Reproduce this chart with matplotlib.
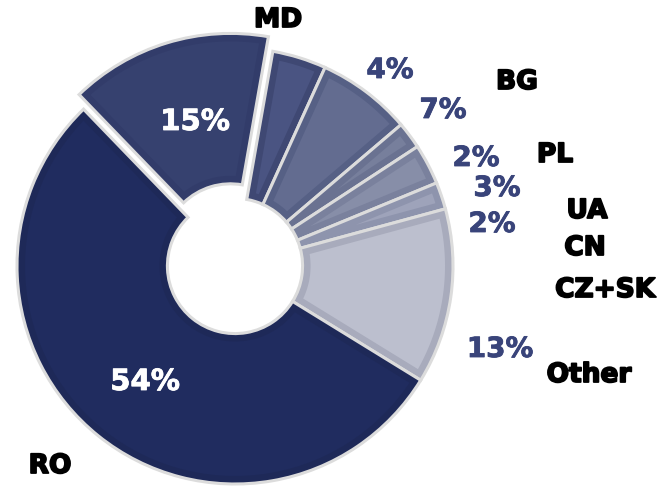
import numpy as np
import matplotlib
matplotlib.use("Agg")
import matplotlib.pyplot as plt
import matplotlib.patheffects as pe
from matplotlib.patches import Polygon

# share by origin, clockwise from the top
labels = ["MD", "BG", "PL", "UA", "CN", "CZ+SK", "Other", "RO"]
shares = [15, 4, 7, 2, 3, 2, 13, 54]

rim_colors = ["#323c6a", "#3f4873", "#566085", "#6a7291", "#7a819d",
              "#8e94ad", "#a8abbc", "#1e2958"]
fill_colors = ["#36416f", "#4a5482", "#636c90", "#777f9c", "#878ea8",
               "#9ea3ba", "#bcbfce", "#202c5f"]
explode = [0.07, 0, 0, 0, 0, 0, 0, 0]

# text placement in figure fraction (px / size)
W, H = 659, 487
name_pos = {"MD": (278, 20), "BG": (517, 82), "PL": (555, 155), "UA": (587, 211),
            "CN": (585, 248), "CZ+SK": (605, 290), "Other": (589, 375), "RO": (50, 466)}
pct_pos = {"MD": (195, 122), "BG": (390, 70), "PL": (443, 110), "UA": (476, 158),
           "CN": (497, 188), "CZ+SK": (492, 224), "Other": (500, 349), "RO": (145, 382)}
inside = {"MD", "RO"}

NAVY = "#39447a"
FONT = "DejaVu Sans"

fig = plt.figure(figsize=(W / 100, H / 100), dpi=100)
ax = fig.add_axes([0, 0, 1, 1])

R_PX = 218
cx, cy = 235, 266
hole = 0.31

wedges, _ = ax.pie(shares, colors=rim_colors, startangle=134, counterclock=False,
                   explode=explode, radius=1,
                   wedgeprops=dict(width=1 - hole, edgecolor="#dcdcdc", linewidth=2.2))

# lighter inner panel inside each wedge
d = 8 / R_PX
for w, fc in zip(wedges, fill_colors):
    c = np.array(w.center)
    t1, t2 = np.radians(w.theta1), np.radians(w.theta2)
    r_out, r_in = w.r - d, w.r - w.width + d
    half = (t2 - t1) / 2
    pts = []
    a_out = np.arcsin(d / r_out)
    if a_out >= half:
        continue
    for t in np.linspace(t1 + a_out, t2 - a_out, 60):
        pts.append(c + r_out * np.array([np.cos(t), np.sin(t)]))
    a_in = np.arcsin(min(d / r_in, 1))
    if a_in < half:
        for t in np.linspace(t2 - a_in, t1 + a_in, 30):
            pts.append(c + r_in * np.array([np.cos(t), np.sin(t)]))
    else:
        r_tip = d / np.sin(half)
        tm = (t1 + t2) / 2
        pts.append(c + r_tip * np.array([np.cos(tm), np.sin(tm)]))
    ax.add_patch(Polygon(pts, closed=True, facecolor=fc, edgecolor="none", zorder=3))

ax.set_xlim(-cx / R_PX, (W - cx) / R_PX)
ax.set_ylim(-(H - cy) / R_PX, cy / R_PX)
ax.set_aspect("equal", adjustable="box")
ax.axis("off")


def heavy(color, lw):
    return [pe.withStroke(linewidth=lw, foreground=color)]


for lab, v in zip(labels, shares):
    x, y = name_pos[lab]
    fig.text(x / W, 1 - y / H, lab, ha="center", va="center", fontsize=19,
             fontweight="bold", color="black", family=FONT,
             path_effects=heavy("black", 1.3))
    x, y = pct_pos[lab]
    if lab in inside:
        fig.text(x / W, 1 - y / H, f"{v}%", ha="center", va="center", fontsize=21,
                 fontweight="bold", color="white", family=FONT, zorder=5,
                 path_effects=heavy("white", 0.6))
    else:
        fig.text(x / W, 1 - y / H, f"{v}%", ha="center", va="center", fontsize=20,
                 fontweight="bold", color=NAVY, family=FONT,
                 path_effects=heavy(NAVY, 0.6))

fig.savefig("out.png", dpi=100)
